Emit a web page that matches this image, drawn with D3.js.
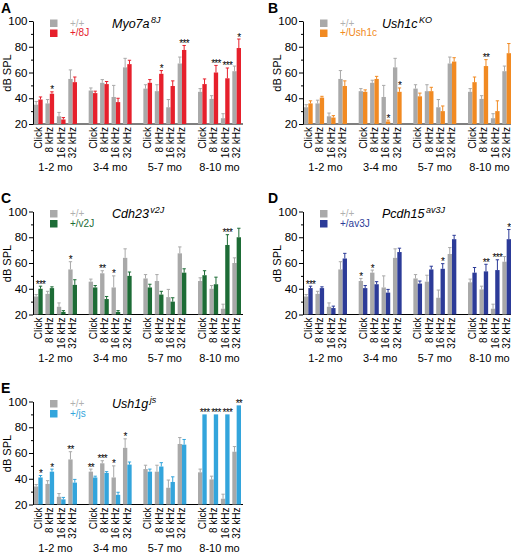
<!DOCTYPE html>
<html>
<head>
<meta charset="utf-8">
<script src="https://cdn.jsdelivr.net/npm/d3@7"></script>
<style>
  html, body { margin: 0; padding: 0; background: #fff; }
  svg { display: block; font-family: "Liberation Sans", Arial, sans-serif; }
</style>
</head>
<body>
<svg id="chart" width="511" height="553"></svg>
<script>
// ---------- data ----------
const groups = ["1-2 mo", "3-4 mo", "5-7 mo", "8-10 mo"];
const freqs = ["Click", "8 kHz", "16 kHz", "32 kHz"];
const yTicks = [20, 40, 60, 80, 100];
const yMinorTicks = [30, 50, 70, 90];
const wtLabel = "+/+";

// values ordered group by group (Click, 8, 16, 32 kHz)
const wtA    = [35, 36, 26, 55,   46, 52, 41, 64,   47.5, 45.5, 33, 67,   45, 39.5, 24.5, 61];
const wtErrA = [2.5, 3, 3, 7,     2, 2.5, 9, 7,     3, 5, 6, 5,           2.5, 2.5, 3.5, 4];
const mutA   = [39, 43.5, 23.5, 52.5, 44, 51, 37, 66.5, 52, 59, 49.5, 77.5, 51, 60, 55.5, 79];
const mutErrA= [2, 1.5, 1.5, 4,   1.5, 2, 3, 3,     2.5, 2.5, 4, 3.5,     4, 5.5, 8, 7];
const starsA = ["", "*", "", "",  "", "", "", "",   "", "*", "", "***",   "", "***", "***", "*"];

const wtB    = [33, 36, 26, 55,   45.5, 52, 41, 64, 47.5, 45.5, 33, 67,   45, 39.5, 24.5, 61];
const wtErrB = [2, 2.5, 2.5, 6.5, 2, 2, 9, 7,       3, 5, 6, 5,           2.5, 2.5, 3.5, 4];
const mutB   = [36, 40.5, 25, 49.5, 45, 55, 22, 45, 41.5, 45.5, 30, 68.5, 52.5, 65, 30, 75];
const mutErrB= [2, 1, 1.5, 4,     1.5, 2, 1, 3,     2.5, 3, 4, 3,         4, 5, 8, 7.5];
const starsB = ["", "", "", "",   "", "", "*", "*", "", "", "", "",       "", "**", "", ""];

const wtC    = [34, 36, 26, 55,   45.5, 52, 41, 64, 48, 46, 33.5, 67.5,   46, 40, 24.5, 60];
const wtErrC = [1.5, 2, 3, 6,     2, 2, 9, 7,       3, 5, 6, 5,           2.5, 2.5, 3.5, 4];
const mutC   = [40, 40.5, 22, 43, 41, 32, 22, 50,   41, 35.5, 30, 52.5,   50.5, 43.5, 74, 80];
const mutErrC= [2, 1, 1, 4,       1.5, 2, 1, 3,     2.5, 2.5, 3, 3,       3.5, 5.5, 8, 7];
const starsC = ["***", "", "", "*", "", "**", "*", "", "", "", "", "",    "", "", "***", ""];

const wtD    = [34, 36, 26, 55,   46, 52.5, 41, 64, 48, 45.5, 33, 67,     45, 39.5, 24.5, 61];
const wtErrD = [1.5, 2, 3, 6,     2, 2, 9, 7,       3, 5, 6, 5,           2.5, 2.5, 3.5, 4];
const mutD   = [40.5, 40.5, 25, 63.5, 40.5, 43.5, 37, 68.5, 44, 55, 55.5, 78.5, 52.5, 53.5, 54.5, 78.5];
const mutErrD= [1.5, 1, 1.5, 4,   2, 2, 2.5, 3,     2, 2.5, 4, 3,         4, 5.5, 8, 7.5];
const starsD = ["***", "", "", "", "*", "*", "", "", "", "", "*", "",     "", "**", "***", "*"];

const wtE    = [34, 36, 26, 55,   45.5, 52, 41, 64, 47.5, 45.5, 33, 67,   45, 39.5, 24.5, 61];
const wtErrE = [1.5, 2.5, 2.5, 6, 2, 2, 9, 7,       3, 5, 6, 5,           2.5, 2.5, 3.5, 4];
const mutE   = [41, 45.5, 24, 37, 41, 44.5, 27.5, 51, 45.5, 49.5, 37.5, 66.5, 90, 90, 90, 97];
const mutErrE= [1.5, 2, 1.5, 2.5, 1, 1, 2, 2,       2, 3, 4, 4,           0, 0, 0, 0];
const starsE = ["*", "*", "", "**", "**", "***", "*", "*", "", "", "", "", "***", "***", "***", "**"];

const panels = [
  {letter: "A", gene: "Myo7a", sup: "8J",    mutLabel: "+/8J",   color: "#e6202c", wt: wtA, wtErr: wtErrA, mut: mutA, mutErr: mutErrA, stars: starsA, col: 0, row: 0, starOn: "higher"},
  {letter: "B", gene: "Ush1c", sup: "KO",    mutLabel: "+/Ush1c", color: "#f18a22", wt: wtB, wtErr: wtErrB, mut: mutB, mutErr: mutErrB, stars: starsB, col: 1, row: 0, starOn: "mutant"},
  {letter: "C", gene: "Cdh23", sup: "v2J",   mutLabel: "+/v2J",  color: "#1d6c36", wt: wtC, wtErr: wtErrC, mut: mutC, mutErr: mutErrC, stars: starsC, col: 0, row: 1, starOn: "higher"},
  {letter: "D", gene: "Pcdh15", sup: "av3J", mutLabel: "+/av3J", color: "#2c3b98", wt: wtD, wtErr: wtErrD, mut: mutD, mutErr: mutErrD, stars: starsD, col: 1, row: 1, starOn: "higher"},
  {letter: "E", gene: "Ush1g", sup: "js",    mutLabel: "+/js",   color: "#33a5dc", wt: wtE, wtErr: wtErrE, mut: mutE, mutErr: mutErrE, stars: starsE, col: 0, row: 2, starOn: "higher"}
];

// ---------- layout ----------
const svg = d3.select("#chart");
const wtColor = "#a9a9a9";
const colX = [33, 303];
const rowTop = [21, 211.5, 401.5];
const plotH = 103;
const plotW = 208;

panels.forEach(p => {
  const x0 = colX[p.col], top = rowTop[p.row], bottom = top + plotH;
  const g = svg.append("g");

  const y = d3.scaleLinear().domain([20, 100]).range([bottom, top]);
  const outer = d3.scaleBand().domain(groups).range([x0 + 1, x0 + plotW]).paddingInner(0.214).paddingOuter(0);
  const inner = d3.scaleBand().domain(freqs).range([0, outer.bandwidth()]).paddingInner(0.24).paddingOuter(0);
  const geno = d3.scaleBand().domain(["wt", "mut"]).range([0, inner.bandwidth()]);

  const rows = [];
  groups.forEach((gr, gi) => freqs.forEach((f, fi) => {
    const i = gi * freqs.length + fi;
    rows.push({group: gr, freq: f, wt: p.wt[i], wtErr: p.wtErr[i], mut: p.mut[i], mutErr: p.mutErr[i], star: p.stars[i]});
  }));

  // x axis baseline
  g.append("line")
    .attr("x1", x0).attr("x2", x0 + plotW + 2)
    .attr("y1", y(20)).attr("y2", y(20))
    .attr("stroke", "#000").attr("stroke-width", 1);

  // bars
  const bars = [];
  rows.forEach(r => {
    bars.push({r, key: "wt", v: r.wt, e: r.wtErr, c: wtColor});
    bars.push({r, key: "mut", v: r.mut, e: r.mutErr, c: p.color});
  });
  const bx = b => outer(b.r.group) + inner(b.r.freq) + geno(b.key);
  g.selectAll("rect.bar").data(bars).join("rect")
    .attr("class", "bar")
    .attr("x", bx)
    .attr("width", geno.bandwidth())
    .attr("y", b => y(b.v))
    .attr("height", b => y(20) - y(b.v))
    .attr("fill", b => b.c);

  // error bars (upper only)
  const eb = bars.filter(b => b.e > 0);
  g.selectAll("line.err").data(eb).join("line")
    .attr("class", "err")
    .attr("x1", b => bx(b) + geno.bandwidth() / 2)
    .attr("x2", b => bx(b) + geno.bandwidth() / 2)
    .attr("y1", b => y(b.v)).attr("y2", b => y(b.v + b.e))
    .attr("stroke", b => b.c).attr("stroke-width", 1);
  g.selectAll("line.cap").data(eb).join("line")
    .attr("class", "cap")
    .attr("x1", b => bx(b) + 0.5)
    .attr("x2", b => bx(b) + geno.bandwidth() - 0.5)
    .attr("y1", b => y(b.v + b.e)).attr("y2", b => y(b.v + b.e))
    .attr("stroke", b => b.c).attr("stroke-width", 1);

  // significance stars
  const st = rows.filter(r => r.star);
  g.selectAll("text.star").data(st).join("text")
    .attr("class", "star")
    .attr("x", r => {
      const key = p.starOn === "mutant" ? "mut" : ((r.mut + r.mutErr) >= (r.wt + r.wtErr) ? "mut" : "wt");
      return outer(r.group) + inner(r.freq) + geno(key) + geno.bandwidth() / 2;
    })
    .attr("y", r => {
      const v = p.starOn === "mutant" ? r.mut + r.mutErr : Math.max(r.mut + r.mutErr, r.wt + r.wtErr);
      return y(v) + 1.5;
    })
    .attr("text-anchor", "middle")
    .attr("font-size", 10)
    .attr("letter-spacing", -0.7)
    .attr("fill", "#000")
    .text(r => r.star);

  // y axis
  const ya = g.append("g").attr("transform", `translate(${x0},0)`)
    .call(d3.axisLeft(y).tickValues(yTicks).tickSize(4).tickSizeOuter(0).tickPadding(1.5));
  ya.select(".domain").attr("stroke", "#000");
  ya.selectAll("text").attr("font-size", 11.5).attr("font-family", "Liberation Sans, Arial, sans-serif").attr("fill", "#000");
  const ym = g.append("g").attr("transform", `translate(${x0},0)`)
    .call(d3.axisLeft(y).tickValues(yMinorTicks).tickSize(2).tickFormat(""));
  ym.select(".domain").remove();

  // y label
  g.append("text")
    .attr("transform", `translate(${x0 - 22},${top + 52}) rotate(-90)`)
    .attr("text-anchor", "middle")
    .attr("font-size", 11)
    .text("dB SPL");

  // frequency labels (rotated)
  g.selectAll("text.freq").data(rows).join("text")
    .attr("class", "freq")
    .attr("transform", r => `translate(${outer(r.group) + inner(r.freq) + inner.bandwidth() / 2 + 3.5},${bottom + 3}) rotate(-90)`)
    .attr("text-anchor", "end")
    .attr("font-size", 10)
    .text(r => r.freq);

  // group labels
  g.selectAll("text.grp").data(groups).join("text")
    .attr("class", "grp")
    .attr("x", d => outer(d) + outer.bandwidth() / 2)
    .attr("y", bottom + 47)
    .attr("text-anchor", "middle")
    .attr("font-size", 11)
    .text(d => d);

  // panel letter
  g.append("text")
    .attr("x", p.col === 0 ? 1 : 268).attr("y", top - 8.5)
    .attr("font-size", 14).attr("font-weight", "bold")
    .text(p.letter);

  // title
  const t = g.append("text")
    .attr("x", x0 + 79).attr("y", top + 6.5)
    .attr("font-size", 12.5).attr("font-style", "italic");
  t.append("tspan").text(p.gene);
  t.append("tspan").attr("dy", -5).attr("dx", 1.5).attr("font-size", 9).text(p.sup);

  // legend
  const leg = [{lab: wtLabel, c: wtColor, tc: "#b0b0b0"}, {lab: p.mutLabel, c: p.color, tc: p.color}];
  leg.forEach((l, i) => {
    g.append("rect").attr("x", x0 + 17).attr("y", top - 1.5 + i * 10).attr("width", 7.5).attr("height", 7.5).attr("fill", l.c);
    g.append("text").attr("x", x0 + 37).attr("y", top + 5.5 + i * 9.5)
      .attr("font-size", 10).attr("fill", l.tc).text(l.lab);
  });
});
</script>
</body>
</html>
